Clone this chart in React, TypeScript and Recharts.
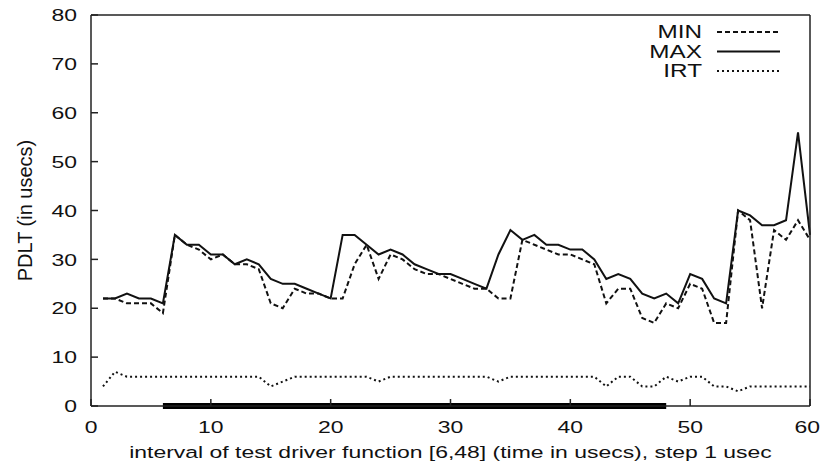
import { LineChart, Line, XAxis, YAxis, Legend, ReferenceLine, Label } from 'recharts';

const times = [
  1, 2, 3, 4, 5, 6, 7, 8, 9, 10, 11, 12, 13, 14, 15, 16, 17, 18, 19, 20,
  21, 22, 23, 24, 25, 26, 27, 28, 29, 30, 31, 32, 33, 34, 35, 36, 37, 38, 39, 40,
  41, 42, 43, 44, 45, 46, 47, 48, 49, 50, 51, 52, 53, 54, 55, 56, 57, 58, 59, 60,
];

const minValues = [
  22, 22, 21, 21, 21, 19, 35, 33, 32, 30, 31, 29, 29, 28, 21, 20, 24, 23, 23, 22,
  22, 29, 33, 26, 31, 30, 28, 27, 27, 26, 25, 24, 24, 22, 22, 34, 33, 32, 31, 31,
  30, 29, 21, 24, 24, 18, 17, 21, 20, 25, 24, 17, 17, 40, 38, 20, 36, 34, 38, 34,
];

const maxValues = [
  22, 22, 23, 22, 22, 21, 35, 33, 33, 31, 31, 29, 30, 29, 26, 25, 25, 24, 23, 22,
  35, 35, 33, 31, 32, 31, 29, 28, 27, 27, 26, 25, 24, 31, 36, 34, 35, 33, 33, 32,
  32, 30, 26, 27, 26, 23, 22, 23, 21, 27, 26, 22, 21, 40, 39, 37, 37, 38, 56, 35,
];

const irtValues = [
  4, 7, 6, 6, 6, 6, 6, 6, 6, 6, 6, 6, 6, 6, 4, 5, 6, 6, 6, 6,
  6, 6, 6, 5, 6, 6, 6, 6, 6, 6, 6, 6, 6, 5, 6, 6, 6, 6, 6, 6,
  6, 6, 4, 6, 6, 4, 4, 6, 5, 6, 6, 4, 4, 3, 4, 4, 4, 4, 4, 4,
];

const xTicks = [0, 10, 20, 30, 40, 50, 60];
const yTicks = [0, 10, 20, 30, 40, 50, 60, 70, 80];
const driverInterval = [6, 48];

const series = [
  { key: 'min', name: 'MIN', dash: '5 3' },
  { key: 'max', name: 'MAX', dash: undefined },
  { key: 'irt', name: 'IRT', dash: '2 3' },
];

const data = times.map((t, i) => ({
  t,
  min: minValues[i],
  max: maxValues[i],
  irt: irtValues[i],
}));

const ink = '#111';
const axisColor = '#222';
// the source picture is stretched sideways, so text is widened to match
const stretch = 1.35;

function XTick({ x, y, payload }: any) {
  // keep the last label inside the picture
  const last = payload.value === xTicks[xTicks.length - 1];
  const tx = last ? Math.min(x + 12.5, 820) : x;
  return (
    <text transform={`translate(${tx},${y}) scale(${stretch},1)`} textAnchor={last ? 'end' : 'middle'} dy="0.71em" fontSize={17} fill={ink}>
      {payload.value}
    </text>
  );
}

function YTick({ x, y, payload }: any) {
  return (
    <text transform={`translate(${x},${y}) scale(${stretch},1)`} textAnchor="end" dy="0.36em" fontSize={17} fill={ink}>
      {payload.value}
    </text>
  );
}

function LegendBox() {
  return (
    <svg width={821} height={90}>
      {series.map((s, i) => {
        const cy = 32 + i * 19.5;
        return (
          <g key={s.key}>
            <text transform={`translate(702,${cy}) scale(${stretch},1)`} textAnchor="end" dy="0.36em" fontSize={18} fill={ink}>
              {s.name}
            </text>
            <line x1={717} x2={780} y1={cy} y2={cy} stroke={ink} strokeWidth={2} strokeDasharray={s.dash} />
          </g>
        );
      })}
    </svg>
  );
}

export default function App() {
  return (
    <div
      style={{
        position: 'absolute',
        left: 0,
        top: 0,
        width: 821,
        height: 469,
        background: '#fff',
        fontFamily: '"Liberation Sans", Arial, sans-serif',
      }}
    >
      <LineChart width={821} height={469} data={data} margin={{ top: 15, right: 11, left: 0, bottom: 0 }}>
        <XAxis
          xAxisId="b"
          dataKey="t"
          type="number"
          domain={[0, 60]}
          ticks={xTicks}
          height={63}
          stroke={axisColor}
          strokeWidth={1.5}
          tickSize={-7}
          tickMargin={22}
          tick={<XTick />}
        >
          <Label
            content={({ viewBox }: any) => {
              const cx = viewBox.x + viewBox.width / 2;
              const by = viewBox.y + viewBox.height - 11;
              return (
                <text transform={`translate(${cx},${by}) scale(${stretch},1)`} textAnchor="middle" fontSize={17} fill={ink}>
                  interval of test driver function [6,48] (time in usecs), step 1 usec
                </text>
              );
            }}
          />
        </XAxis>
        <XAxis
          xAxisId="t"
          orientation="top"
          type="number"
          domain={[0, 60]}
          ticks={xTicks}
          mirror
          tick={false}
          tickSize={7}
          stroke={axisColor}
          strokeWidth={1.5}
        />
        <YAxis
          domain={[0, 80]}
          ticks={yTicks}
          width={91}
          stroke={axisColor}
          strokeWidth={1.5}
          tickSize={-7}
          tickMargin={21}
          tick={<YTick />}
        >
          <Label
            content={({ viewBox }: any) => {
              const cx = 32;
              const cy = viewBox.y + viewBox.height / 2;
              return (
                <text x={cx} y={cy} textAnchor="middle" fontSize={20} fill={ink} transform={`rotate(-90, ${cx}, ${cy})`}>
                  PDLT (in usecs)
                </text>
              );
            }}
          />
        </YAxis>
        <YAxis
          yAxisId="r"
          orientation="right"
          domain={[0, 80]}
          ticks={yTicks}
          mirror
          tick={false}
          tickSize={7}
          stroke={axisColor}
          strokeWidth={1.5}
        />
        <Legend layout="vertical" align="center" verticalAlign="middle" content={LegendBox}
          wrapperStyle={{ top: 0, left: 0, width: 821, height: 90 }} />
        <ReferenceLine
          xAxisId="b"
          segment={[
            { x: driverInterval[0], y: 0 },
            { x: driverInterval[1], y: 0 },
          ]}
          ifOverflow="visible"
          stroke="#000"
          strokeWidth={6}
        />
        {series.map((s) => (
          <Line
            key={s.key}
            xAxisId="b"
            dataKey={s.key}
            name={s.name}
            stroke={ink}
            strokeWidth={2}
            strokeDasharray={s.dash}
            dot={false}
            isAnimationActive={false}
          />
        ))}
      </LineChart>
    </div>
  );
}
